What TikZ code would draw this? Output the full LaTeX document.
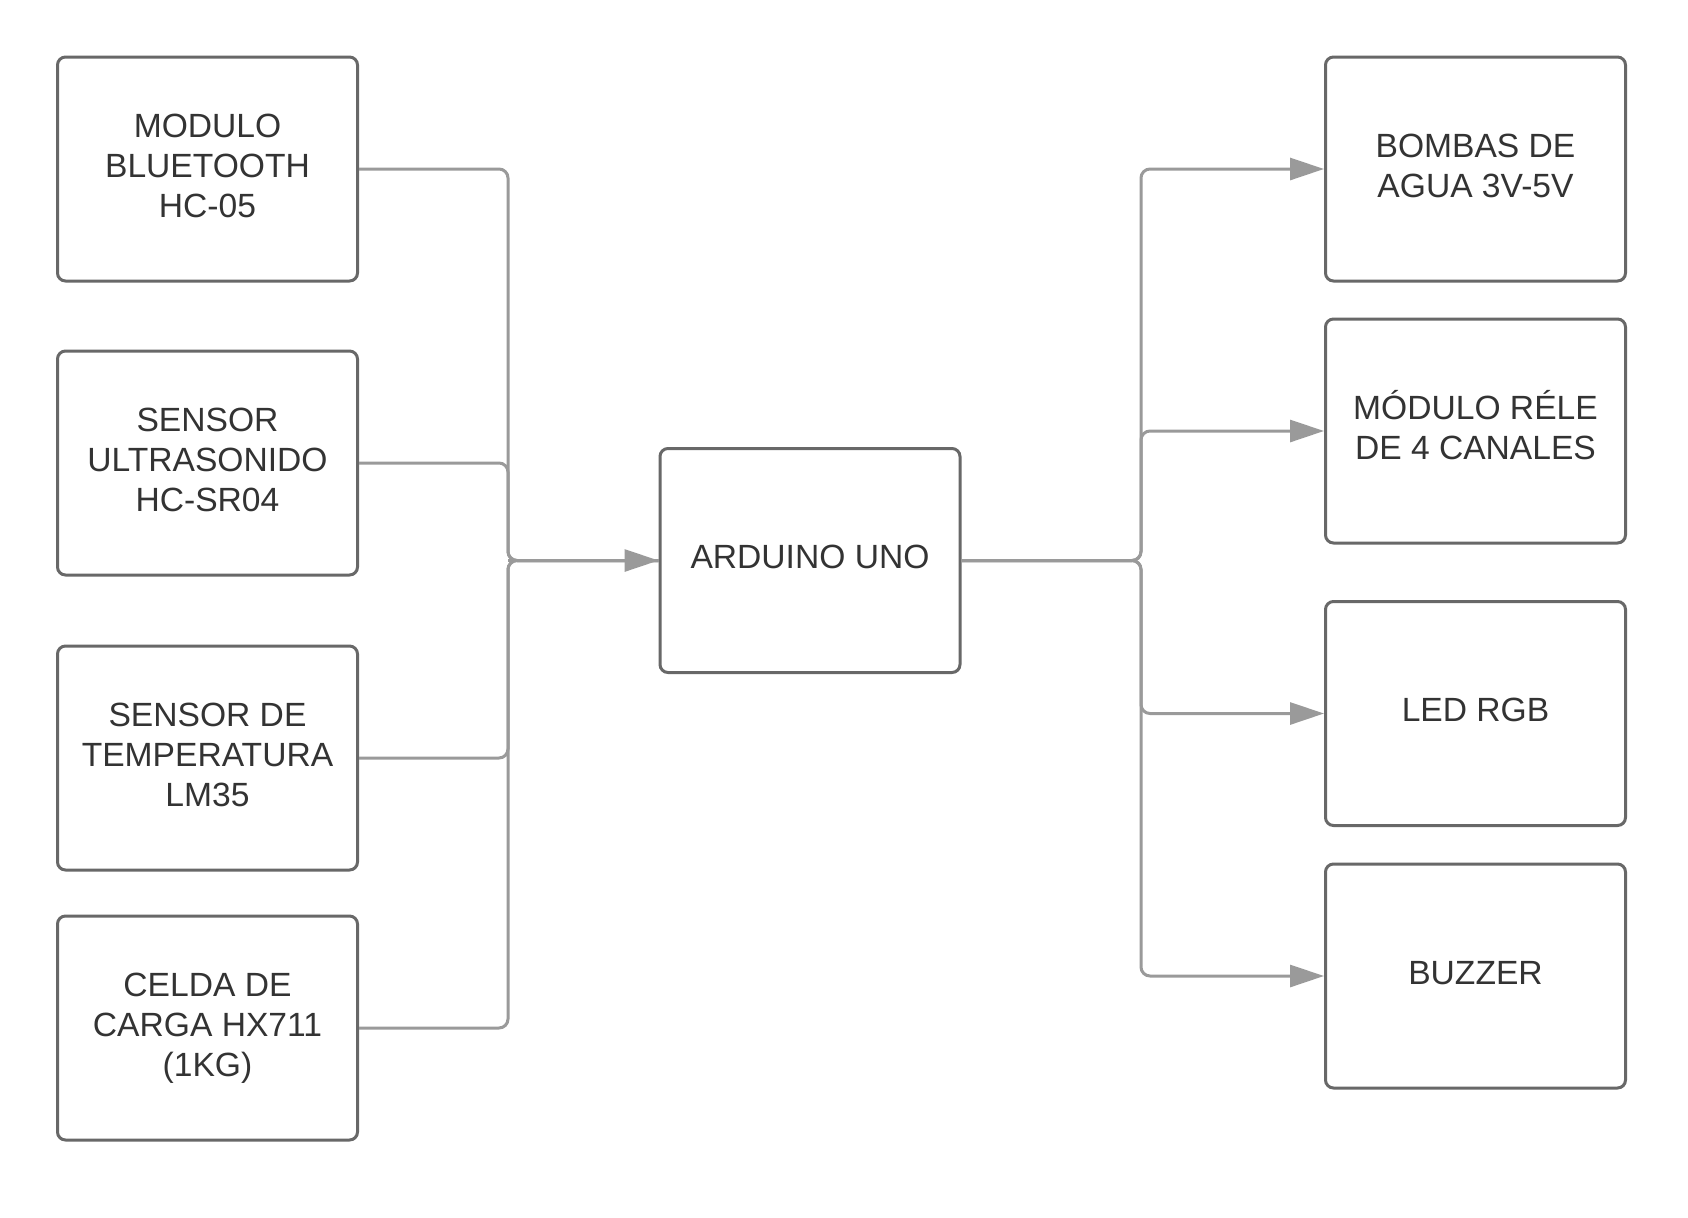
\documentclass[tikz,border=0pt]{standalone}
\usepackage{fontspec}
\setmainfont{Liberation Sans}
\usetikzlibrary{arrows.meta}
\definecolor{boxline}{HTML}{686868}
\definecolor{connline}{HTML}{9A9A9A}
\definecolor{txt}{HTML}{333333}
\newcommand\blktext[1]{\begin{tabular}{@{}c@{}}#1\end{tabular}}
\begin{document}
\begin{tikzpicture}[x=0.5pt,y=-0.5pt,
  blk/.style={draw=boxline, line width=1.5pt, rounded corners=4pt, fill=white,
    minimum width=150pt, minimum height=112pt, inner sep=0pt,
    text=txt, font=\fontsize{16.8}{20}\selectfont},
  conn/.style={draw=connline, line width=1.5pt, rounded corners=4.5pt},
  arr/.style={conn, -{Triangle[length=17pt,width=11pt]}}]
\useasboundingbox[fill=white] (0,0) rectangle (1688,1217);
% left column
\node[blk] (b1) at (207.5,169) {\blktext{MODULO\\BLUETOOTH\\HC-05}};
\node[blk] (b2) at (207.5,463) {\blktext{SENSOR\\ULTRASONIDO\\HC-SR04}};
\node[blk] (b3) at (207.5,758) {\blktext{SENSOR DE\\TEMPERATURA\\LM35}};
\node[blk] (b4) at (207.5,1028) {\blktext{CELDA DE\\CARGA HX711\\(1KG)}};
% center
\node[blk] (ard) at (810,560.5) {\blktext{ARDUINO UNO}};
% right column
\node[blk] (r1) at (1475.5,169) {\blktext{BOMBAS DE\\AGUA 3V-5V}};
\node[blk] (r2) at (1475.5,431) {\blktext{MÓDULO RÉLE\\DE 4 CANALES}};
\node[blk] (r3) at (1475.5,713.5) {\blktext{LED RGB}};
\node[blk] (r4) at (1475.5,976) {\blktext{BUZZER}};
% junctions
\coordinate (jl) at (508,560.5);
\coordinate (jr) at (1141,560.5);
% left connectors
\draw[conn] (b1.east) -| (jl) -- (ard.west);
\draw[conn] (b2.east) -| (jl) -- (ard.west);
\draw[conn] (b3.east) -| (jl) -- (ard.west);
\draw[conn] (b4.east) -| (jl) -- (ard.west);
\draw[arr] (jl) -- (ard.west);
% right connectors
\draw[arr] (ard.east) -- (jr) |- (r1.west);
\draw[arr] (ard.east) -- (jr) |- (r2.west);
\draw[arr] (ard.east) -- (jr) |- (r3.west);
\draw[arr] (ard.east) -- (jr) |- (r4.west);
\end{tikzpicture}
\end{document}
